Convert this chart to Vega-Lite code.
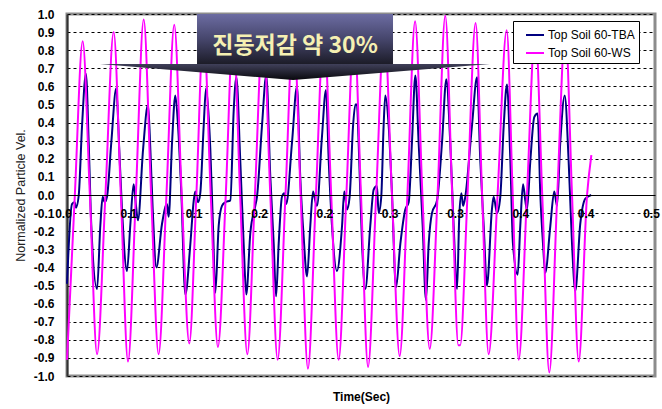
{
  "$schema": "https://vega.github.io/schema/vega-lite/v6.json",
  "width": 588,
  "height": 362,
  "autosize": {"type": "none"},
  "padding": {"left": 67, "top": 14, "right": 7, "bottom": 33},
  "background": "white",
  "config": {
    "view": {"stroke": "#8c8c8c", "strokeWidth": 3},
    "font": "Liberation Sans",
    "legend": {
      "orient": "none",
      "legendX": 446,
      "legendY": 7,
      "title": null,
      "symbolType": "stroke",
      "symbolSize": 324,
      "symbolStrokeWidth": 2,
      "labelFont": "Liberation Sans",
      "labelFontSize": 12,
      "labelColor": "black",
      "labelOffset": 3,
      "symbolOffset": 8,
      "fillColor": "white",
      "strokeColor": "black",
      "padding": 4,
      "rowPadding": 2
    }
  },
  "datasets": {
    "tba": [
      {"t": 0, "v": -0.49}, {"t": 0.0038, "v": -0.05}, {"t": 0.0059, "v": -0.04}, {"t": 0.0069, "v": -0.07}, {"t": 0.009, "v": 0}, {"t": 0.0115, "v": 0.38}, {"t": 0.0145, "v": 0.67}, {"t": 0.0166, "v": 0.29}, {"t": 0.0186, "v": -0.17}, {"t": 0.023, "v": -0.52},
      {"t": 0.0255, "v": -0.17}, {"t": 0.0273, "v": -0.01}, {"t": 0.0288, "v": -0.04}, {"t": 0.0306, "v": -0.01}, {"t": 0.0339, "v": 0.29}, {"t": 0.0377, "v": 0.59}, {"t": 0.04, "v": 0.25}, {"t": 0.0421, "v": -0.08}, {"t": 0.0459, "v": -0.42},
      {"t": 0.0485, "v": -0.16}, {"t": 0.051, "v": 0.06}, {"t": 0.0528, "v": -0.06}, {"t": 0.0543, "v": -0.14}, {"t": 0.0582, "v": 0.25}, {"t": 0.062, "v": 0.5}, {"t": 0.0638, "v": 0.25}, {"t": 0.0656, "v": -0.08}, {"t": 0.0684, "v": -0.4},
      {"t": 0.0727, "v": -0.16}, {"t": 0.0765, "v": -0.05}, {"t": 0.0778, "v": -0.12}, {"t": 0.0804, "v": 0.29}, {"t": 0.0829, "v": 0.55}, {"t": 0.085, "v": 0.38}, {"t": 0.0875, "v": 0.01}, {"t": 0.0906, "v": -0.55},
      {"t": 0.0944, "v": -0.27}, {"t": 0.097, "v": -0.03}, {"t": 0.0982, "v": 0.02}, {"t": 0.1003, "v": -0.04}, {"t": 0.102, "v": 0.01}, {"t": 0.1046, "v": 0.38}, {"t": 0.1064, "v": 0.59}, {"t": 0.1097, "v": 0.25}, {"t": 0.1117, "v": -0.17}, {"t": 0.1135, "v": -0.54},
      {"t": 0.1161, "v": -0.17}, {"t": 0.1186, "v": -0.06}, {"t": 0.1212, "v": -0.04}, {"t": 0.125, "v": -0.03}, {"t": 0.1276, "v": 0.47}, {"t": 0.1296, "v": 0.65}, {"t": 0.1326, "v": 0.19}, {"t": 0.1352, "v": -0.27}, {"t": 0.1372, "v": -0.55},
      {"t": 0.1403, "v": -0.21}, {"t": 0.1441, "v": -0.06}, {"t": 0.1454, "v": -0.01}, {"t": 0.1492, "v": 0.38}, {"t": 0.1525, "v": 0.66}, {"t": 0.1556, "v": 0.1}, {"t": 0.1582, "v": -0.27}, {"t": 0.16, "v": -0.56},
      {"t": 0.162, "v": -0.27}, {"t": 0.1645, "v": -0.01}, {"t": 0.1663, "v": 0.01}, {"t": 0.1678, "v": -0.05}, {"t": 0.1722, "v": 0.29}, {"t": 0.176, "v": 0.6}, {"t": 0.1785, "v": 0.1}, {"t": 0.1811, "v": -0.23}, {"t": 0.1837, "v": -0.45},
      {"t": 0.1862, "v": -0.17}, {"t": 0.1883, "v": 0.02}, {"t": 0.1893, "v": -0.01}, {"t": 0.1913, "v": -0.06}, {"t": 0.1951, "v": 0.32}, {"t": 0.1982, "v": 0.58}, {"t": 0.2003, "v": 0.19}, {"t": 0.2028, "v": -0.17}, {"t": 0.2066, "v": -0.42},
      {"t": 0.2105, "v": -0.17}, {"t": 0.2122, "v": 0.02}, {"t": 0.2143, "v": -0.08}, {"t": 0.2163, "v": -0.01}, {"t": 0.2189, "v": 0.38}, {"t": 0.2207, "v": 0.5}, {"t": 0.2219, "v": 0.5}, {"t": 0.2232, "v": 0.29}, {"t": 0.2258, "v": -0.27}, {"t": 0.2283, "v": -0.52},
      {"t": 0.2321, "v": -0.17}, {"t": 0.2347, "v": 0.03}, {"t": 0.2372, "v": 0.05}, {"t": 0.2385, "v": -0.1}, {"t": 0.2405, "v": -0.01}, {"t": 0.2423, "v": 0.38}, {"t": 0.2436, "v": 0.55}, {"t": 0.2462, "v": 0.38}, {"t": 0.2487, "v": 0.01}, {"t": 0.2518, "v": -0.51},
      {"t": 0.2551, "v": -0.27}, {"t": 0.2589, "v": -0.08}, {"t": 0.2615, "v": -0.04}, {"t": 0.264, "v": 0.29}, {"t": 0.2666, "v": 0.66}, {"t": 0.2691, "v": 0.29}, {"t": 0.2722, "v": -0.17}, {"t": 0.2747, "v": -0.58},
      {"t": 0.2768, "v": -0.27}, {"t": 0.2793, "v": -0.1}, {"t": 0.2832, "v": -0.03}, {"t": 0.287, "v": 0.29}, {"t": 0.2903, "v": 0.64}, {"t": 0.2933, "v": 0.29}, {"t": 0.2959, "v": -0.17}, {"t": 0.2985, "v": -0.52},
      {"t": 0.3002, "v": -0.12}, {"t": 0.3018, "v": 0.01}, {"t": 0.3031, "v": -0.06}, {"t": 0.3048, "v": -0.01}, {"t": 0.3099, "v": 0.38}, {"t": 0.3138, "v": 0.65}, {"t": 0.3163, "v": 0.19}, {"t": 0.3189, "v": -0.17}, {"t": 0.3214, "v": -0.5},
      {"t": 0.3252, "v": -0.08}, {"t": 0.3265, "v": -0.01}, {"t": 0.3291, "v": -0.1}, {"t": 0.3316, "v": -0.01}, {"t": 0.3342, "v": 0.38}, {"t": 0.3367, "v": 0.61}, {"t": 0.3393, "v": 0.19}, {"t": 0.3413, "v": -0.27}, {"t": 0.3449, "v": -0.44},
      {"t": 0.3469, "v": -0.17}, {"t": 0.349, "v": 0.06}, {"t": 0.3507, "v": -0.03}, {"t": 0.352, "v": -0.08}, {"t": 0.3546, "v": 0.19}, {"t": 0.3576, "v": 0.43}, {"t": 0.3602, "v": 0.45}, {"t": 0.3622, "v": 0.01}, {"t": 0.3643, "v": -0.27}, {"t": 0.366, "v": -0.43},
      {"t": 0.3699, "v": -0.17}, {"t": 0.3729, "v": 0.02}, {"t": 0.375, "v": -0.06}, {"t": 0.3775, "v": 0.29}, {"t": 0.3809, "v": 0.55}, {"t": 0.3839, "v": 0.19}, {"t": 0.3865, "v": -0.27}, {"t": 0.389, "v": -0.53},
      {"t": 0.3928, "v": -0.16}, {"t": 0.3967, "v": -0.02}, {"t": 0.4012, "v": 0}
    ],
    "ws": [
      {"t": 0, "v": -0.91}, {"t": 0.006, "v": 0}, {"t": 0.012, "v": 0.85}, {"t": 0.0175, "v": 0}, {"t": 0.023, "v": -0.88}, {"t": 0.0294, "v": 0}, {"t": 0.0357, "v": 0.9}, {"t": 0.0412, "v": 0}, {"t": 0.0467, "v": -0.92}, {"t": 0.0527, "v": 0},
      {"t": 0.0587, "v": 0.97}, {"t": 0.0644, "v": 0}, {"t": 0.0701, "v": -0.88}, {"t": 0.0761, "v": 0}, {"t": 0.0821, "v": 0.94}, {"t": 0.0878, "v": 0}, {"t": 0.0936, "v": -0.82}, {"t": 0.099, "v": 0}, {"t": 0.1045, "v": 0.92}, {"t": 0.11, "v": 0},
      {"t": 0.1155, "v": -0.84}, {"t": 0.1215, "v": 0}, {"t": 0.1272, "v": 0.93}, {"t": 0.1325, "v": 0}, {"t": 0.138, "v": -0.88}, {"t": 0.1438, "v": 0}, {"t": 0.15, "v": 0.93}, {"t": 0.1556, "v": 0}, {"t": 0.1612, "v": -0.91}, {"t": 0.1672, "v": 0},
      {"t": 0.1733, "v": 0.95}, {"t": 0.1788, "v": 0}, {"t": 0.1844, "v": -0.96}, {"t": 0.1905, "v": 0}, {"t": 0.1966, "v": 0.93}, {"t": 0.2022, "v": 0}, {"t": 0.2079, "v": -0.91}, {"t": 0.2138, "v": 0}, {"t": 0.2197, "v": 0.92}, {"t": 0.225, "v": 0},
      {"t": 0.2304, "v": -0.95}, {"t": 0.2366, "v": 0}, {"t": 0.2428, "v": 0.93}, {"t": 0.2487, "v": 0}, {"t": 0.2546, "v": -0.89}, {"t": 0.2605, "v": 0}, {"t": 0.2664, "v": 0.96}, {"t": 0.272, "v": 0}, {"t": 0.2776, "v": -0.85}, {"t": 0.2836, "v": 0},
      {"t": 0.2895, "v": 0.99}, {"t": 0.2948, "v": 0}, {"t": 0.2995, "v": -0.83}, {"t": 0.3009, "v": -0.83}, {"t": 0.3065, "v": 0}, {"t": 0.3127, "v": 0.95}, {"t": 0.3177, "v": 0}, {"t": 0.3227, "v": -0.88}, {"t": 0.3295, "v": 0}, {"t": 0.3365, "v": 0.91},
      {"t": 0.3411, "v": 0}, {"t": 0.3457, "v": -0.91}, {"t": 0.352, "v": 0}, {"t": 0.3584, "v": 0.92}, {"t": 0.3637, "v": 0}, {"t": 0.3691, "v": -0.98}, {"t": 0.3752, "v": 0}, {"t": 0.3814, "v": 0.92}, {"t": 0.3865, "v": 0}, {"t": 0.3916, "v": -0.92},
      {"t": 0.398, "v": 0}, {"t": 0.4013, "v": 0.22}
    ],
    "pointer": [
      {"t": 0.0253, "v": 0.724, "high": 0.724},
      {"t": 0.173, "v": 0.635, "high": 0.724},
      {"t": 0.3237, "v": 0.724, "high": 0.724}
    ],
    "callout": [
      {"t": 0.0995, "t1": 0.2495, "v": 1.0, "bottom": 0.724}
    ],
    "note": [
      {"t": 0.1745, "v": 0.825, "label": "진동저감 약 30%"}
    ]
  },
  "encoding": {
    "x": {
      "field": "t",
      "type": "quantitative",
      "scale": {"domain": [0, 0.45], "nice": false, "zero": false},
      "axis": {
        "values": [0, 0.05, 0.1, 0.15, 0.2, 0.25, 0.3, 0.35, 0.4, 0.45],
        "labelExpr": "format(datum.value + 0.00001, '.1f')",
        "offset": -181,
        "grid": false,
        "ticks": false,
        "domainColor": "black",
        "domainWidth": 1,
        "labelFont": "Liberation Sans",
        "labelFontWeight": "bold",
        "labelFontSize": 12,
        "labelColor": "black",
        "labelPadding": 13,
        "labelOffset": -4,
        "labelOverlap": false,
        "labelFlush": false,
        "title": "Time(Sec)",
        "titleFont": "Liberation Sans",
        "titleFontSize": 12,
        "titleFontWeight": "bold",
        "titleColor": "black",
        "titleX": 294,
        "titleY": 196,
        "titleBaseline": "top",
        "titleAlign": "center",
        "zindex": 1
      }
    },
    "y": {
      "field": "v",
      "type": "quantitative",
      "scale": {"domain": [-1, 1], "nice": false},
      "axis": {
        "values": [-1, -0.9, -0.8, -0.7, -0.6, -0.5, -0.4, -0.3, -0.2, -0.1, 0, 0.1, 0.2, 0.3, 0.4, 0.5, 0.6, 0.7, 0.8, 0.9, 1],
        "labelExpr": "(datum.value < -0.001 ? '-' : '') + format(abs(datum.value), '.1f')",
        "grid": true,
        "gridColor": "black",
        "gridDash": [3, 3],
        "gridWidth": 1,
        "ticks": false,
        "domain": true,
        "domainColor": "#333333",
        "domainWidth": 2,
        "labelFont": "Liberation Sans",
        "labelFontWeight": "bold",
        "labelFontSize": 12,
        "labelColor": "black",
        "labelPadding": 13,
        "labelOverlap": false,
        "labelFlush": false,
        "title": "Normalized Particle Vel.",
        "titleFont": "Liberation Sans",
        "titleFontSize": 12.5,
        "titleFontWeight": "normal",
        "titleColor": "#222222",
        "titlePadding": 6
      }
    }
  },
  "layer": [
    {
      "data": {"name": "tba"},
      "mark": {"type": "line", "interpolate": "monotone", "strokeWidth": 2},
      "encoding": {
        "color": {
          "datum": "Top Soil 60-TBA",
          "type": "nominal",
          "scale": {"domain": ["Top Soil 60-TBA", "Top Soil 60-WS"], "range": ["#000080", "#ff00ff"]}
        }
      }
    },
    {
      "data": {"name": "ws"},
      "mark": {"type": "line", "interpolate": "monotone", "strokeWidth": 2},
      "encoding": {
        "color": {"datum": "Top Soil 60-WS", "type": "nominal"}
      }
    },
    {
      "data": {"name": "pointer"},
      "mark": {
        "type": "area",
        "interpolate": "linear",
        "fill": {
          "gradient": "linear", "x1": 0, "y1": 0, "x2": 0, "y2": 1,
          "stops": [{"offset": 0, "color": "#40405a"}, {"offset": 1, "color": "#08080c"}]
        }
      },
      "encoding": {
        "y2": {"field": "high"}
      }
    },
    {
      "data": {"name": "callout"},
      "mark": {
        "type": "rect",
        "fill": {
          "gradient": "linear", "x1": 0, "y1": 0, "x2": 0, "y2": 1,
          "stops": [{"offset": 0, "color": "#6c6ca2"}, {"offset": 0.5, "color": "#46466c"}, {"offset": 1, "color": "#1c1c28"}]
        }
      },
      "encoding": {
        "x2": {"field": "t1"},
        "y2": {"field": "bottom"}
      }
    },
    {
      "data": {"name": "note"},
      "mark": {
        "type": "text",
        "font": "Noto Sans CJK KR",
        "fontWeight": "bold",
        "fontSize": 23,
        "fill": "#f5f0b2",
        "align": "center",
        "baseline": "middle"
      },
      "encoding": {
        "text": {"field": "label"}
      }
    }
  ]
}
